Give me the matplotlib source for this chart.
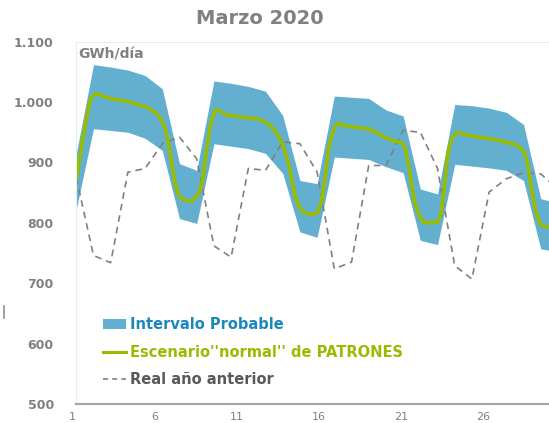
import numpy as np
import matplotlib.pyplot as plt
from matplotlib.patches import Patch
from matplotlib.lines import Line2D

# Daily demand, March 2020 (GWh/day)
days = np.arange(1, 30)

# Probable interval (band)
band_upper = [915, 1062, 1058, 1053, 1044, 1022, 898, 887, 1035, 1031, 1026, 1018, 978, 870, 865,
              1010, 1008, 1006, 987, 977, 856, 848, 996, 994, 990, 983, 963, 840, 833]
band_lower = [823, 956, 953, 950, 940, 920, 807, 799, 931, 927, 923, 915, 882, 785, 776,
              909, 907, 905, 893, 883, 771, 764, 897, 894, 891, 887, 870, 757, 752]

# "normal" scenario (read at finer steps from the smooth curve)
normal_x = [1.0, 1.5, 1.8, 2.0, 2.26, 2.6, 2.94, 4.0, 5.07, 5.5,
            5.85, 6.05, 6.23, 6.45, 6.72, 6.9, 7.1, 7.4, 7.69, 7.98,
            8.2, 8.37, 8.55, 8.76, 8.95, 9.14, 9.4, 9.82, 10.7, 11.56,
            11.9, 12.24, 12.55, 12.83, 13.05, 13.31, 13.5, 13.7, 13.95, 14.18,
            14.5, 14.76, 15.0, 15.24, 15.45, 15.63, 15.85, 16.0, 16.21, 16.6,
            16.99, 17.96, 18.45, 18.93, 19.41, 19.9, 20.08, 20.28, 20.47, 20.67,
            20.9, 21.16, 21.5, 21.74, 22.0, 22.22, 22.4, 22.61, 22.85, 23.0,
            23.19, 23.5, 23.97, 25.33, 26.49, 26.8, 27.07, 27.25, 27.45, 27.7,
            27.94, 28.2, 28.48, 29.0]
normal_y = [872, 960, 1003, 1012, 1014, 1009, 1006, 1001, 992, 985,
            975, 964, 950, 915, 868, 850, 840, 837, 835, 843,
            855, 876, 915, 956, 978, 988, 984, 978, 975, 972,
            968, 962, 952, 940, 925, 901, 875, 846, 828, 818,
            815, 814, 816, 834, 870, 917, 945, 957, 965, 961,
            959, 956, 950, 942, 936, 933, 927, 901, 868, 834,
            815, 801, 800, 801, 801, 818, 860, 917, 940, 947,
            950, 947, 944, 938, 930, 925, 915, 895, 857, 820,
            799, 794, 793, 791]

# Previous year real values
real_prev = [875, 746, 734, 884, 890, 931, 942, 906, 762, 743, 890, 887, 934, 931, 884,
             724, 735, 895, 895, 953, 950, 890, 729, 707, 851, 873, 883, 881, 856]

y_ticks = [500, 600, 700, 800, 900, 1000, 1100]
y_labels = ["500", "600", "700", "800", "900", "1.000", "1.100"]
x_tick_labels = ["1", "6", "11", "16", "21", "26"]

band_color = "#63AFD0"
green = "#99BB00"
grey = "#808080"

fig = plt.figure(figsize=(5.49, 4.23), dpi=100)
ax = fig.add_axes([76 / 549, 19 / 423, 1 - 76 / 549, (404 - 41.7) / 423])

ax.fill_between(days, band_lower, band_upper, color=band_color, linewidth=0)
ax.plot(days, real_prev, color=grey, lw=1.2, linestyle=(0, (4, 3)))
ax.plot(normal_x, normal_y, color=green, lw=2.6, solid_joinstyle="round",
        solid_capstyle="round")

ax.set_xlim(0.983, 28.48)
ax.set_ylim(500, 1100)

ax.set_yticks(y_ticks)
ax.set_yticklabels(y_labels, fontsize=9, fontweight="bold", color=grey)
ax.tick_params(axis="y", length=0, pad=16)
ax.set_xticks([])

# x labels are spaced slightly tighter than the data in the original
for i, lab in enumerate(x_tick_labels):
    ax.text(0.79 + 5 * i * 0.9547, -0.043, lab, transform=ax.get_xaxis_transform(),
            ha="center", va="baseline", fontsize=8, color=grey, clip_on=False)

for s in ["left", "top"]:
    ax.spines[s].set_color("#E4EEF1")
    ax.spines[s].set_linewidth(0.8)
ax.spines["right"].set_visible(False)
ax.spines["bottom"].set_color("#A6A6A6")
ax.spines["bottom"].set_linewidth(1.6)

ax.text(0.004, 0.965, "GWh/día", transform=ax.transAxes, fontsize=10,
        fontweight="bold", color=grey, va="center", ha="left")

fig.text(260 / 549, 1 - 18 / 423, "Marzo 2020", fontsize=14, fontweight="bold",
         color=grey, ha="center", va="center")

handles = [Patch(facecolor=band_color, edgecolor="none"),
           Line2D([0], [0], color=green, lw=2.2),
           Line2D([0], [0], color=grey, lw=1.2, linestyle=(0, (3, 2.5)))]
labels = ["Intervalo Probable", "Escenario''normal'' de PATRONES", "Real año anterior"]
leg = ax.legend(handles, labels, loc="upper left", bbox_to_anchor=(0.045, 0.255),
                frameon=False, prop={"weight": "bold", "size": 10.5},
                handlelength=1.6, handletextpad=0.25, labelspacing=0.85,
                borderaxespad=0)
for t, c in zip(leg.get_texts(), ["#1A87BD", green, "#595959"]):
    t.set_color(c)

# small stray mark at the left edge of the original
fig.add_artist(Line2D([4 / 549, 4 / 549], [1 - 318 / 423, 1 - 306 / 423],
                      color="#909090", lw=1.2))

fig.savefig("out.png", dpi=100)
